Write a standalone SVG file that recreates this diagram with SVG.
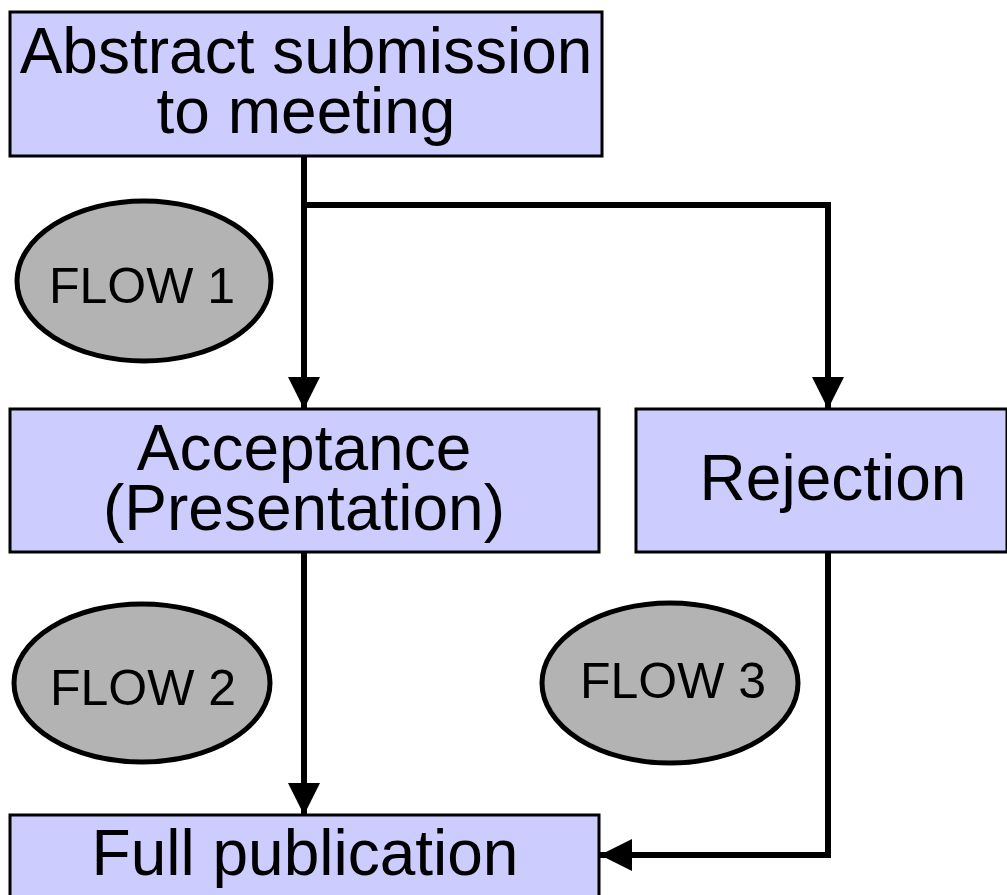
<svg xmlns="http://www.w3.org/2000/svg" width="1007" height="895" viewBox="0 0 1007 895">
<style>
.box{fill:#ccccff;stroke:#000;stroke-width:3}
.ell{fill:#b3b3b3;stroke:#000;stroke-width:5}
.big{font-family:"Liberation Sans",Arial,sans-serif;font-size:64px;fill:#000;text-anchor:middle}
.sm{font-family:"Liberation Sans",Arial,sans-serif;font-size:50px;fill:#000;text-anchor:middle}
.con{fill:none;stroke:#000;stroke-width:6;stroke-linejoin:miter}
</style>
<defs>
<marker id="arr" markerUnits="userSpaceOnUse" markerWidth="32" markerHeight="32" viewBox="0 0 30 30" refX="30" refY="15" orient="auto">
<path d="M0,0 L30,15 L0,30 Z" fill="#000"/>
</marker>
</defs>
<rect width="1007" height="895" fill="#fff"/>
<g id="connectors">
<path class="con" d="M304,156 V409" marker-end="url(#arr)"/>
<path class="con" d="M304,205 H828 V409" marker-end="url(#arr)"/>
<path class="con" d="M304,552 V815" marker-end="url(#arr)"/>
<path class="con" d="M828,552 V855 H600" marker-end="url(#arr)"/>
</g>
<g id="abstract">
<rect class="box" x="10" y="12" width="592" height="144"/>
<text class="big" x="306" y="73">Abstract submission</text>
<text class="big" x="306" y="133">to meeting</text>
</g>
<g id="acceptance">
<rect class="box" x="10" y="409" width="589" height="143"/>
<text class="big" x="304" y="470">Acceptance</text>
<text class="big" x="304" y="530">(Presentation)</text>
</g>
<g id="rejection">
<rect class="box" x="636" y="409" width="371" height="143"/>
<text class="big" x="833" y="500">Rejection</text>
</g>
<g id="full">
<rect class="box" x="10" y="815" width="589" height="100"/>
<text class="big" x="305" y="875">Full publication</text>
</g>
<g id="flow1">
<ellipse class="ell" cx="144" cy="281" rx="127" ry="80"/>
<text class="sm" x="142" y="303">FLOW 1</text>
</g>
<g id="flow2">
<ellipse class="ell" cx="142" cy="683" rx="128" ry="79"/>
<text class="sm" x="143" y="705">FLOW 2</text>
</g>
<g id="flow3">
<ellipse class="ell" cx="670" cy="683" rx="128" ry="80"/>
<text class="sm" x="673" y="698">FLOW 3</text>
</g>
</svg>
